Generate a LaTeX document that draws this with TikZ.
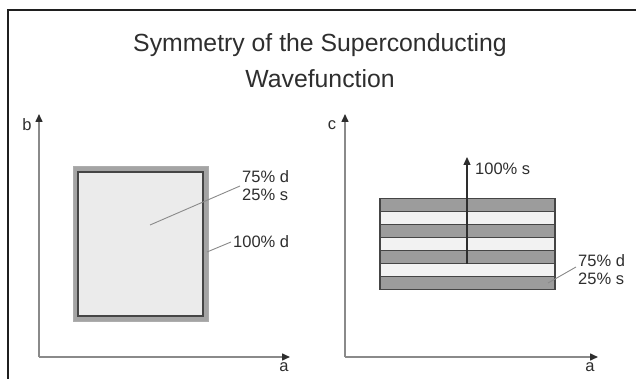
\documentclass[tikz,border=0pt]{standalone}
\usepackage{fontspec}
\setmainfont{Liberation Sans}
\usetikzlibrary{arrows.meta}
\definecolor{txt}{HTML}{2E2E2E}
\definecolor{axisgray}{HTML}{8A8A8A}
\definecolor{darkband}{HTML}{9C9C9C}
\definecolor{lightband}{HTML}{F2F2F2}
\definecolor{panelfill}{HTML}{EBEBEB}
\definecolor{bandgray}{HTML}{A4A4A4}
\definecolor{edge}{HTML}{454545}
\tikzset{
  lbl/.style={inner sep=0pt, text=txt, font=\fontsize{16.5}{18}\selectfont, align=left, anchor=north west},
  axlbl/.style={inner sep=0pt, text=txt, font=\fontsize{16.5}{18}\selectfont},
  axisline/.style={draw=axisgray, line width=1.5pt, -{Triangle[length=8pt,width=7pt,fill=txt,color=txt]}},
  leader/.style={draw=axisgray, line width=0.9pt},
  darkstripe/.style={fill=darkband, draw=edge, line width=1.4pt},
  lightstripe/.style={fill=lightband, draw=edge, line width=1.4pt},
}
\begin{document}
\begin{tikzpicture}[x=1pt,y=-1pt]
\useasboundingbox (0,0) rectangle (636,379);
% frame
\draw[line width=2pt, color=black!88] (8,385) -- (8,10) -- (640,10);
% title
\node[inner sep=0pt, text=txt, font=\fontsize{24.8}{36}\selectfont, align=center, anchor=base] (title) at (320,88) {Symmetry of the Superconducting\\Wavefunction};

% ---------- left panel ----------
\coordinate (lo) at (39,357);
\coordinate (ly) at (39,114);
\coordinate (lx) at (290,357);
\draw[axisline] (lo) -- (ly);
\draw[axisline] (lo) -- (lx);
\node[axlbl] (lb) at (27,125) {b};
\node[axlbl] (la) at (284,367) {a};

\draw[fill=bandgray, draw=axisgray!70, line width=1pt] (73,167) rectangle (208,321);
\draw[fill=panelfill, draw=edge, line width=1.6pt] (78,172) rectangle (203,316);

\node[lbl] (l75) at (242,170) {75\% d\\25\% s};
\node[lbl] (l100) at (233,235) {100\% d};
\coordinate (lp1) at (150,225);
\coordinate (lp1e) at (240,186);
\coordinate (lp2) at (207,252);
\coordinate (lp2e) at (231,242);
\draw[leader] (lp1) -- (lp1e);
\draw[leader] (lp2) -- (lp2e);

% ---------- right panel ----------
\coordinate (ro) at (345,357);
\coordinate (ry) at (345,114);
\coordinate (rx) at (598,357);
\draw[axisline] (ro) -- (ry);
\draw[axisline] (ro) -- (rx);
\node[axlbl] (rc) at (332,125) {c};
\node[axlbl] (ra) at (590,367) {a};

\foreach \i in {0,...,6}{
  \pgfmathsetmacro{\ya}{198.5+13*\i}
  \pgfmathsetmacro{\yb}{198.5+13*(\i+1)}
  \ifodd\i
    \draw[lightstripe] (380,\ya) rectangle (555,\yb);
  \else
    \draw[darkstripe] (380,\ya) rectangle (555,\yb);
  \fi
}
\coordinate (sbot) at (467,263.5);
\coordinate (stop) at (467,157);
\draw[line width=1.3pt, color=txt, -{Triangle[length=8pt,width=7pt]}] (sbot) -- (stop);
\node[lbl] (r100) at (475,163) {100\% s};

\node[lbl] (r75) at (578,254) {75\% d\\25\% s};
\coordinate (rp1) at (548,283);
\coordinate (rp1e) at (576,267);
\draw[leader] (rp1) -- (rp1e);
\end{tikzpicture}
\end{document}
